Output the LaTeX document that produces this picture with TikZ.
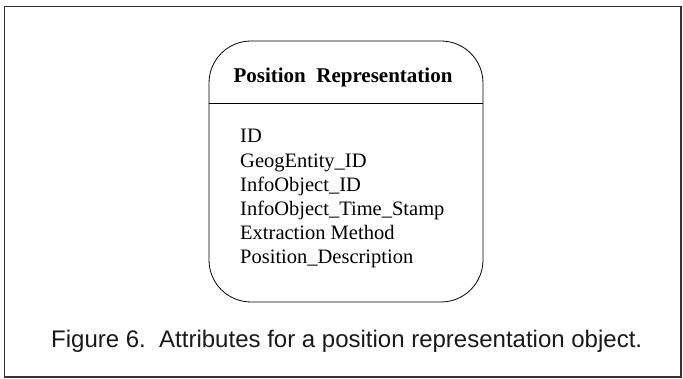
\documentclass[tikz,border=0pt]{standalone}
\usepackage{fontspec}
\setmainfont{Liberation Serif}
\newfontfamily\capfont{Liberation Sans}
\usepackage{tikz}
\usetikzlibrary{calc}
\tikzstyle{frame} = [draw=black!80, line width=1.5pt]
\tikzstyle{objbox} = [rectangle, draw, rounded corners=42pt, line width=0.8pt, minimum width=274pt, minimum height=261pt, inner sep=0pt]
\tikzstyle{head} = [anchor=base, inner sep=0pt, font=\fontsize{21}{25}\selectfont\bfseries]
\tikzstyle{attr} = [anchor=base west, inner sep=0pt, font=\fontsize{20.5}{24}\selectfont]
\tikzstyle{figcap} = [anchor=base west, inner sep=0pt, text=black!90, font=\capfont\fontsize{24}{28}\selectfont]

\begin{document}
\begin{tikzpicture}
    [x=1pt, y=1pt]
    \useasboundingbox (0,0) rectangle (683,378);
    \draw[frame] (4.5,1) rectangle (681,371.5);
    % object box
    \node[objbox] (obj) at (346,206.5) {};
    \draw[line width=0.8pt] (obj.west |- 0,275) -- (obj.east |- 0,275);
    \node[head] (title) at (343,295) {Position\ \ Representation};
    \foreach \t [count=\i] in {ID, GeogEntity\_ID, InfoObject\_ID, InfoObject\_Time\_Stamp, Extraction Method, Position\_Description}
      \node[attr] (attr\i) at (240,{235-24.2*(\i-1)}) {\t};
    % caption
    \node[figcap] (caption) at (51,31) {Figure 6.\ \ Attributes for a position representation object.};
\end{tikzpicture}
\end{document}
